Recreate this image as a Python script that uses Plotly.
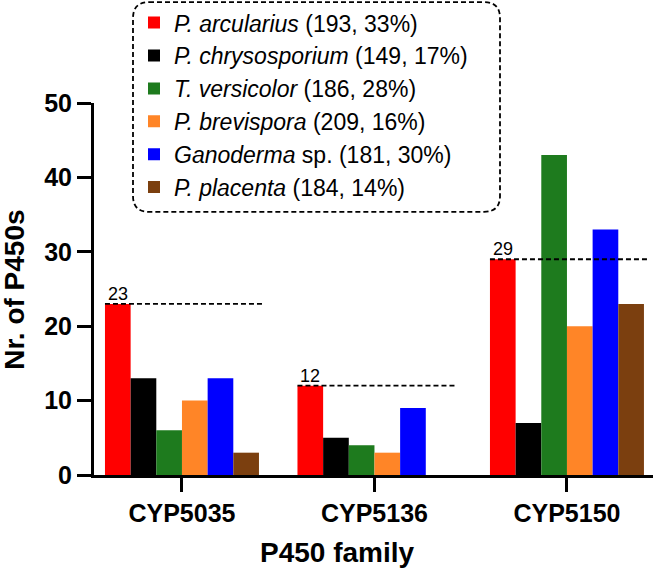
import plotly.graph_objects as go

families = ["CYP5035", "CYP5136", "CYP5150"]
species = [
    "<i>P. arcularius</i> (193, 33%)",
    "<i>P. chrysosporium</i> (149, 17%)",
    "<i>T. versicolor</i> (186, 28%)",
    "<i>P. brevispora</i> (209, 16%)",
    "<i>Ganoderma</i> sp. (181, 30%)",
    "<i>P. placenta</i> (184, 14%)",
]
colors = ["#FF0000", "#000000", "#1E7B1E", "#FF8527", "#0000FF", "#7B3F0F"]

p_arcularius = [23, 12, 29]
p_chrysosporium = [13, 5, 7]
t_versicolor = [6, 4, 43]
p_brevispora = [10, 3, 20]
ganoderma = [13, 9, 33]
p_placenta = [3, 0, 23]
series = [p_arcularius, p_chrysosporium, t_versicolor, p_brevispora, ganoderma, p_placenta]

yticks = [0, 10, 20, 30, 40, 50]

FONT = "Liberation Sans, Arial, sans-serif"
xpos = list(range(len(families)))

fig = go.Figure()
for name, vals, col in zip(species, series, colors):
    fig.add_trace(go.Bar(
        x=xpos, y=vals, name=name, marker=dict(color=col, line=dict(width=0)),
        legendgroup=name,
    ))

# dashed reference lines at P. arcularius level
for i, v in enumerate(p_arcularius):
    fig.add_shape(type="line", xref="x", yref="y", x0=i - 0.4, x1=i + 0.42, y0=v, y1=v,
                  line=dict(color="black", width=1.8, dash="5px,3px"), layer="above")
    fig.add_annotation(x=i - 0.4, y=v, text=str(v), showarrow=False, xref="x", yref="y",
                       xanchor="left", yanchor="bottom", xshift=1, yshift=-2,
                       font=dict(family=FONT, size=18, color="black"))

L, T, PW, PH = 94, 103, 559, 372.5
def px(xp):
    return (xp - L) / PW
def py(yp):
    return (T + PH - yp) / PH

# rounded dashed legend box (paper coords)
x0, x1, y0, y1 = px(133), px(500), py(212), py(2)
rx, ry = 16 / PW, 16 / PH
path = (f"M{x0+rx},{y1} L{x1-rx},{y1} Q{x1},{y1} {x1},{y1-ry} L{x1},{y0+ry} "
        f"Q{x1},{y0} {x1-rx},{y0} L{x0+rx},{y0} Q{x0},{y0} {x0},{y0+ry} "
        f"L{x0},{y1-ry} Q{x0},{y1} {x0+rx},{y1} Z")
fig.add_shape(type="path", xref="paper", yref="paper", path=path,
              line=dict(color="black", width=1.8, dash="5px,3px"))

# axis titles
fig.add_annotation(text="P450 family", xref="paper", yref="paper", x=px(337), y=py(553),
                   showarrow=False, xanchor="center", yanchor="middle",
                   font=dict(family=FONT, size=28, weight="bold", color="black"))
fig.add_annotation(text="Nr. of P450s", xref="paper", yref="paper", x=px(15), y=py(290),
                   showarrow=False, xanchor="center", yanchor="middle", textangle=-90,
                   font=dict(family=FONT, size=28, weight="bold", color="black"))

fig.update_layout(
    width=653, height=573,
    margin=dict(l=L, r=0, t=T, b=573 - T - PH, autoexpand=False),
    paper_bgcolor="white", plot_bgcolor="white",
    bargap=0.2, bargroupgap=0,
    font=dict(family=FONT, color="black"),
    showlegend=True,
    legend=dict(x=px(134), y=py(1), xanchor="left", yanchor="top",
                font=dict(family=FONT, size=23, color="black"),
                bgcolor="rgba(0,0,0,0)", borderwidth=0, tracegroupgap=0,
                itemclick=False),
    xaxis=dict(
        range=[-0.457, 2.447], tickvals=xpos, ticktext=families,
        showline=True, linecolor="black", linewidth=3,
        ticks="outside", ticklen=14, tickwidth=3, tickcolor="black",
        tickfont=dict(family=FONT, size=25, weight="bold"),
        showgrid=False, zeroline=False,
    ),
    yaxis=dict(
        range=[0, 50], tickvals=yticks,
        showline=True, linecolor="black", linewidth=3,
        ticks="outside", ticklen=14, tickwidth=3, tickcolor="black",
        tickfont=dict(family=FONT, size=25, weight="bold"),
        showgrid=False, zeroline=False,
    ),
)

fig.write_html("out.html", config={"displayModeBar": False},
               post_script="document.body.style.margin='0';document.body.style.overflow='hidden';")
